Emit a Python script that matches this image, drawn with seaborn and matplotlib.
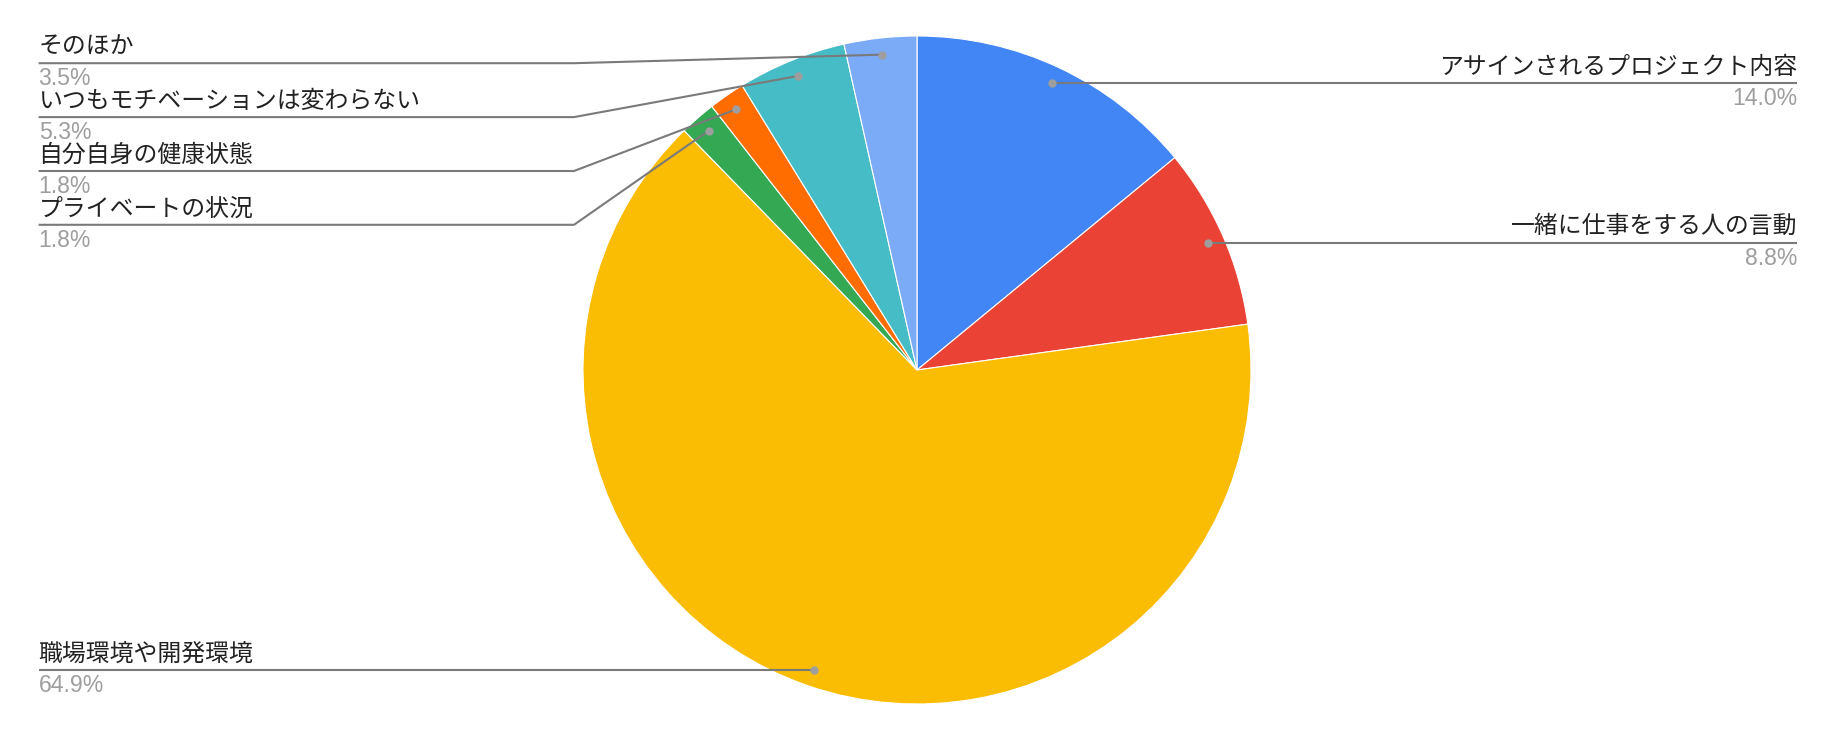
import numpy as np
import matplotlib
matplotlib.use("Agg")
import matplotlib.pyplot as plt
import seaborn as sns

# ---- data ----
categories = ["アサインされるプロジェクト内容", "一緒に仕事をする人の言動", "職場環境や開発環境",
              "プライベートの状況", "自分自身の健康状態", "いつもモチベーションは変わらない", "そのほか"]
counts = [8, 5, 37, 1, 1, 3, 2]
colors = ["#4285F4", "#EA4335", "#FBBC04", "#34A853", "#FF6D01", "#46BDC6", "#7BAAF7"]
sides = ["right", "right", "left", "left", "left", "left", "left"]

# ---- layout (pixels, y from top) ----
W, H = 1836, 742
CX, CY, R = 917, 370, 334
LEFT_X, RIGHT_X, ELBOW_X = 38.6, 1797, 574
left_line_y = {3: 224.8, 4: 171.0, 5: 117.1, 6: 63.2}

sns.set_theme(style="white")
plt.rcParams['font.family'] = ['Noto Sans CJK JP', 'DejaVu Sans']

fig = plt.figure(figsize=(W / 100, H / 100), dpi=100)
ax = fig.add_axes([0, 0, 1, 1])

Y = lambda p: H - p

pal = sns.color_palette(colors)
ax.pie(counts, colors=pal, startangle=90, counterclock=False,
       center=(CX, Y(CY)), radius=R,
       wedgeprops=dict(linewidth=0.8, edgecolor="white"))
ax.set_xlim(0, W)
ax.set_ylim(0, H)
ax.set_aspect("equal")
ax.axis("off")

total = sum(counts)
cum = np.cumsum([0] + counts)
line_col = "#7a7a7a"
dot_col = "#9e9e9e"
for i, (cat, c) in enumerate(zip(categories, counts)):
    mid = (cum[i] + c / 2) / total * 2 * np.pi
    dx = CX + 0.95 * R * np.sin(mid)
    dy = CY - 0.95 * R * np.cos(mid)
    pct = f"{100 * c / total:.1f}%"
    if sides[i] == "right":
        ly = dy
        ax.plot([dx, RIGHT_X], [Y(ly), Y(ly)], color=line_col, lw=1.5, solid_capstyle="butt", zorder=3)
        tx, ha = RIGHT_X, "right"
    else:
        ly = left_line_y.get(i, dy)
        ax.plot([LEFT_X, ELBOW_X, dx], [Y(ly), Y(ly), Y(dy)], color=line_col, lw=1.5,
                solid_capstyle="butt", zorder=3)
        tx, ha = LEFT_X, "left"
    ax.plot([dx], [Y(dy)], "o", color=dot_col, ms=5, zorder=4)
    ax.text(tx, Y(ly - 16), cat, ha=ha, va="center", fontsize=17.2, color="#222222")
    ax.text(tx, Y(ly + 15.5), pct, ha=ha, va="center", fontsize=16.6, color="#9e9e9e",
            family=["Liberation Sans", "DejaVu Sans"])

fig.savefig("out.png", dpi=100, facecolor="white")
